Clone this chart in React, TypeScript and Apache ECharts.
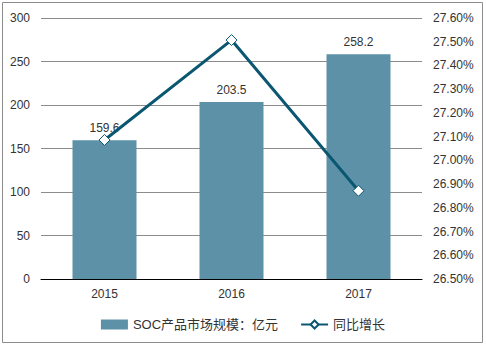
import React, { useEffect, useRef } from "react";
import * as echarts from "echarts";

const years = ["2015", "2016", "2017"];
const marketSize = [159.6, 203.5, 258.2];
const growthBp = [2708.6, 2750.7, 2687.2]; // percent * 100
const leftTicks = { min: 0, max: 300, interval: 50 };
const rightTicks = { min: 2650, max: 2760, interval: 10 };

export default function App() {
  const ref = useRef<HTMLDivElement>(null);
  useEffect(() => {
    document.body.style.margin = "0";
    const chart = echarts.init(ref.current!, null, { renderer: "svg" });
    const font = "Arial, 'Liberation Sans', 'Noto Sans CJK SC', sans-serif";
    chart.setOption({
      animation: false,
      textStyle: { fontFamily: font },
      graphic: [
        {
          type: "rect",
          shape: { x: 2.5, y: 2.5, width: 480, height: 340 },
          style: { fill: "none", stroke: "#8c8c8c", lineWidth: 1 },
          silent: true,
        },
      ],
      grid: { left: 41, right: 64, top: 18, bottom: 69 },
      legend: {
        left: "center",
        top: 313,
        itemWidth: 27,
        itemHeight: 10,
        itemGap: 22,
        textStyle: { fontSize: 13, color: "#333", fontFamily: font },
        data: [
          { name: "SOC产品市场规模：亿元", icon: "rect" },
          { name: "同比增长" },
        ],
      },
      xAxis: {
        type: "category",
        data: years,
        axisLine: { lineStyle: { color: "#000", width: 1 } },
        axisTick: { show: false },
        axisLabel: { color: "#333", fontSize: 12, margin: 9, fontFamily: font },
      },
      yAxis: [
        {
          type: "value",
          ...leftTicks,
          axisLine: { show: false },
          axisTick: { show: false },
          axisLabel: { color: "#333", fontSize: 12, margin: 11, fontFamily: font },
          splitLine: { lineStyle: { color: "#8c8c8c", width: 1 } },
        },
        {
          type: "value",
          ...rightTicks,
          axisLine: { show: false },
          axisTick: { show: false },
          splitLine: { show: false },
          axisLabel: {
            color: "#333",
            fontSize: 12,
            margin: 11,
            fontFamily: font,
            formatter: (v: number) => (v / 100).toFixed(2) + "%",
          },
        },
      ],
      series: [
        {
          name: "SOC产品市场规模：亿元",
          type: "bar",
          data: marketSize,
          barWidth: 64,
          itemStyle: { color: "#5d91a8" },
          label: {
            show: true,
            position: "top",
            distance: 6,
            color: "#333",
            fontSize: 12,
            fontFamily: font,
          },
        },
        {
          name: "同比增长",
          type: "line",
          yAxisIndex: 1,
          data: growthBp,
          symbol: "diamond",
          symbolSize: 11,
          lineStyle: { color: "#0b5670", width: 3 },
          itemStyle: { color: "#ffffff", borderColor: "#0b5670", borderWidth: 1 },
          z: 5,
        },
      ],
    });
    return () => chart.dispose();
  }, []);
  return <div ref={ref} style={{ width: 486, height: 348 }} />;
}
